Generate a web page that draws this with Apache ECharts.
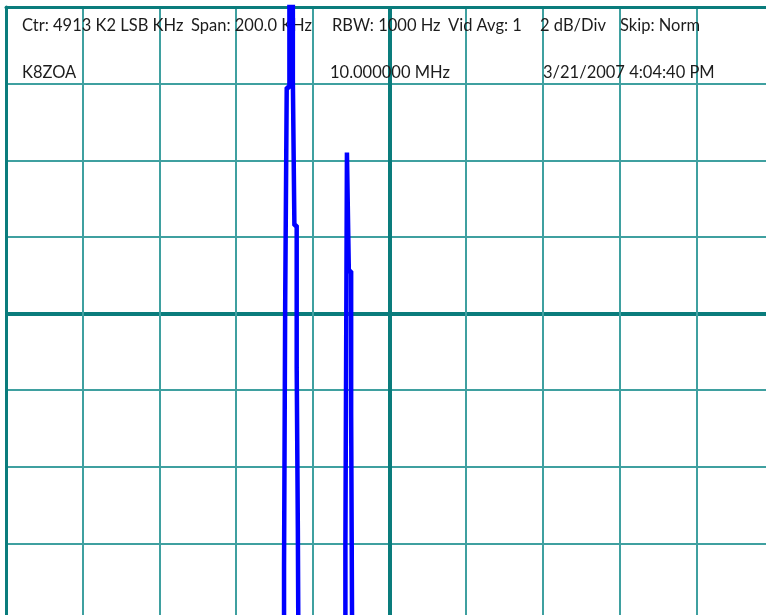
<!DOCTYPE html>
<html><head><meta charset="utf-8">
<script src="https://cdn.jsdelivr.net/npm/echarts@6/dist/echarts.min.js"></script>
<style>html,body{margin:0;padding:0;background:#fff}#c{width:766px;height:615px}</style>
</head><body><div id="c"></div>
<script>
// Header texts
const headerLine1 = ['Ctr: 4913 K2 LSB KHz', 'Span: 200.0 KHz', 'RBW: 1000 Hz', 'Vid Avg: 1', '2 dB/Div', 'Skip: Norm'];
const headerLine2 = ['K8ZOA', '10.000000 MHz', '3/21/2007 4:04:40 PM'];
// Axis settings
const centerKHz = 4913;
const spanKHz = 200;
const kHzPerDiv = 20;
const dbPerDiv = 2;
const refLevelDb = 0;
const divisionsY = 8;
// Trace (frequency kHz, level dB) - step trace
const freqKHz = [4813, 4880, 4885.5, 4885.8, 4886.2, 4886.9, 4887.8, 4888.2, 4888.8, 4889.1, 4889.5, 4896, 4901.5, 4901.9, 4902.4, 4903.0, 4903.5, 5013];
const levelDb = [-22, -22, -14.6, -7.7, -2.1, 2, -1.9, -5.7, -9.4, -13.6, -22, -22, -14.1, -3.8, -6.9, -10.6, -22, -22];

const xMin = centerKHz - spanKHz / 2, xMax = centerKHz + spanKHz / 2;
const yMax = refLevelDb, yMin = refLevelDb - dbPerDiv * divisionsY;
const thin = '#3fa0a0', thick = '#0a7c7c';
const chart = echarts.init(document.getElementById('c'), null, {renderer: 'canvas'});
const font = 'Lato, "Open Sans", sans-serif';
const x1 = [22, 191, 332, 448, 540, 620];
const x2 = [22, 330, 543];
const graphics = [];
headerLine1.forEach((t, i) => graphics.push({type: 'text', x: x1[i], y: 26, z: 1, style: {text: t, font: '16.5px ' + font, fill: '#1c1c1c', textVerticalAlign: 'middle', verticalAlign: 'middle'}}));
headerLine2.forEach((t, i) => graphics.push({type: 'text', x: x2[i], y: 72.5, z: 1, style: {text: t, font: '16.5px ' + font, fill: '#1c1c1c', textVerticalAlign: 'middle', verticalAlign: 'middle'}}));
chart.setOption({
  animation: false,
  backgroundColor: '#fff',
  grid: {left: 6, top: 7, width: 767, height: 613, containLabel: false, outerBoundsMode: 'none'},
  xAxis: [
    {type: 'value', min: xMin, max: xMax, interval: kHzPerDiv, position: 'bottom',
     axisLine: {show: false}, axisTick: {show: false}, axisLabel: {show: false},
     splitLine: {show: true, showMinLine: false, lineStyle: {color: thin, width: 2}}},
    {type: 'value', min: xMin, max: xMax, interval: spanKHz / 2, position: 'top',
     axisLine: {show: true, lineStyle: {color: thick, width: 3}}, axisTick: {show: false}, axisLabel: {show: false},
     splitLine: {show: true, showMinLine: false, showMaxLine: false, lineStyle: {color: thick, width: 4}}}
  ],
  yAxis: [
    {type: 'value', min: yMin, max: yMax, interval: dbPerDiv, position: 'left',
     axisLine: {show: true, lineStyle: {color: thick, width: 3}}, axisTick: {show: false}, axisLabel: {show: false},
     splitLine: {show: true, showMinLine: false, lineStyle: {color: thin, width: 2}}},
    {type: 'value', min: yMin, max: yMax, interval: dbPerDiv * divisionsY / 2, position: 'right',
     axisLine: {show: false}, axisTick: {show: false}, axisLabel: {show: false},
     splitLine: {show: true, showMinLine: false, showMaxLine: false, lineStyle: {color: thick, width: 4}}}
  ],
  graphic: graphics,
  series: [{
    type: 'line', step: 'end', xAxisIndex: 0, yAxisIndex: 0, z: 5,
    data: freqKHz.map((f, i) => [f, levelDb[i]]),
    symbol: 'none', clip: true,
    lineStyle: {color: '#0000ff', width: 4.5}
  }]
});
</script></body></html>
